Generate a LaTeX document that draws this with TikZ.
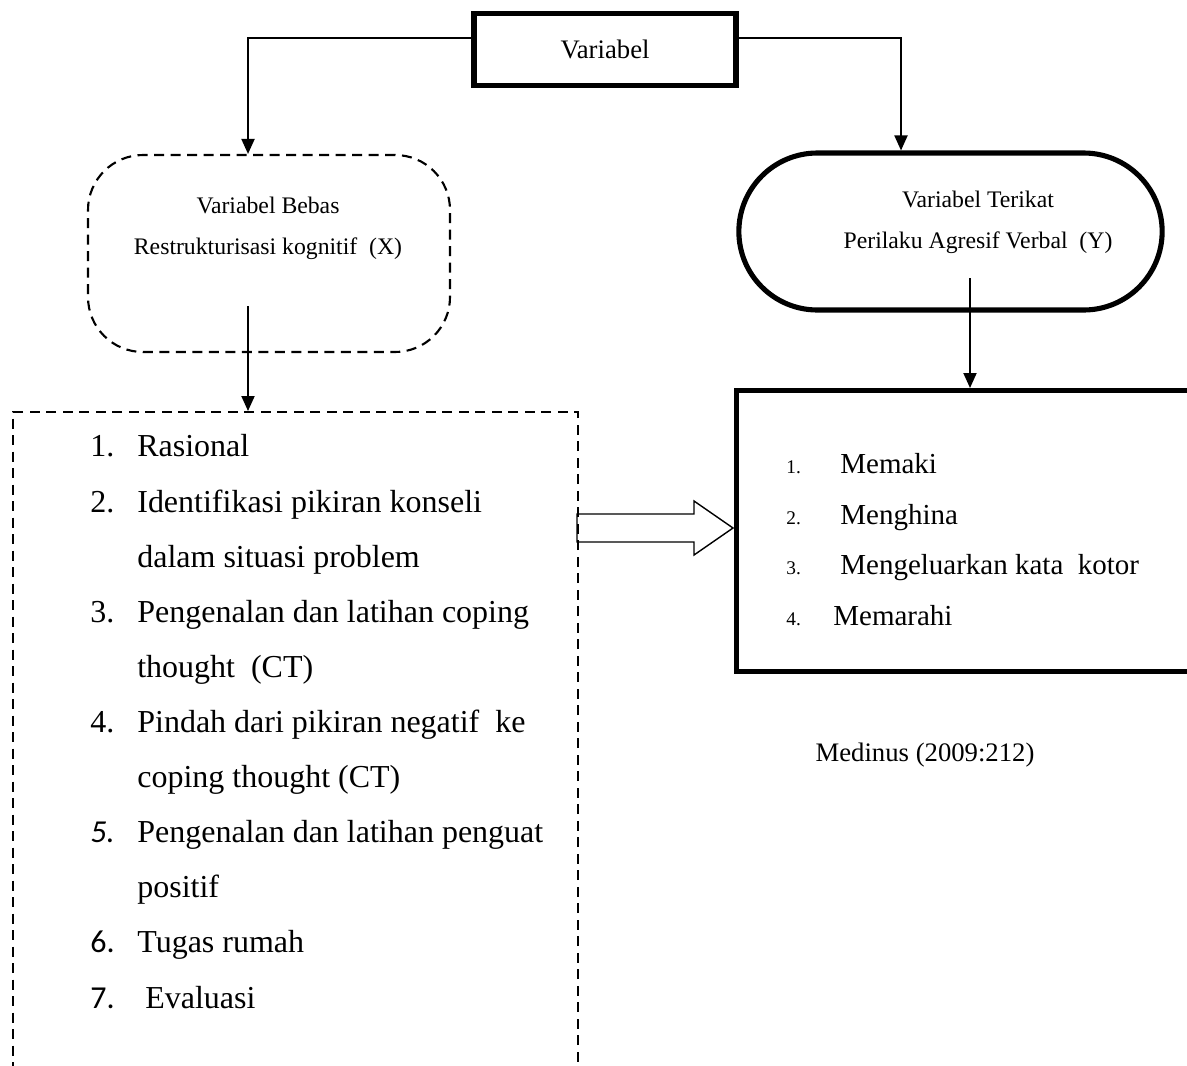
\documentclass[tikz,border=0pt]{standalone}
\usepackage{fontspec}
\setmainfont{Liberation Serif}
\newfontfamily\calibri{Carlito}
\usetikzlibrary{calc,positioning,arrows.meta,shapes.misc}

\begin{document}
\begin{tikzpicture}[scale=1, transform shape,
    conn/.style={line width=1.1pt, -{Triangle[length=0.3cm,width=0.26cm]}},
    tebal/.style={draw, line width=2.9pt},
    putus/.style={draw, line width=1.2pt, dash pattern=on 0.2cm off 0.13cm},
    label/.style={align=center, font=\fontsize{13.5}{23.6}\selectfont},
    item/.style={anchor=base west, inner sep=0pt, font=\fontsize{18.2}{22}\selectfont},
    itemkanan/.style={anchor=base west, inner sep=0pt, font=\fontsize{16.5}{20}\selectfont},
    nokanan/.style={anchor=base west, inner sep=0pt, font=\fontsize{11}{13}\selectfont}]
  \useasboundingbox (0,0) rectangle (23.74,-21.3);
  \clip (0,0) rectangle (23.74,-21.3);

  % boxes
  \node[tebal, minimum width=5.24cm, minimum height=1.44cm,
    font=\fontsize{15.2}{18}\selectfont] (var) at (12.1,-0.99) {Variabel};
  \node[putus, rounded corners=1.1cm, minimum width=7.24cm,
    minimum height=3.94cm] (bebas) at (5.38,-5.07) {};
  \node[label] (bebastxt) at (5.36,-4.57)
    {Variabel Bebas\\Restrukturisasi kognitif~~(X)};
  \node[tebal, rounded rectangle, minimum width=8.7cm,
    minimum height=3.14cm] (terikat) at (19.01,-4.63) {};
  \node[label] (terikattxt) at (19.56,-4.45)
    {Variabel Terikat\\Perilaku Agresif Verbal~~(Y)};
  \node[putus, anchor=north west, minimum width=11.3cm,
    minimum height=13.9cm] (langkah) at (0.24,-8.22) {};
  \node[tebal, anchor=north west, minimum width=10cm,
    minimum height=5.62cm] (indikator) at (14.68,-7.76) {};

  % connectors
  \coordinate (kiri) at (4.96,-0.76);
  \coordinate (kanan) at (18.02,-0.76);
  \draw[conn] (var.west |- kiri) -- (kiri) -- (kiri |- bebas.north);
  \draw[conn] (var.east |- kanan) -- (kanan) -- (kanan |- terikat.north);
  \coordinate (x1) at (4.96,-6.12);
  \coordinate (y1) at (19.4,-5.56);
  \draw[conn] (x1) -- (x1 |- langkah.north);
  \draw[conn] (y1) -- (y1 |- indikator.north);

  % hollow arrow
  \draw[line width=0.8pt] (11.54,-10.28) -- (13.88,-10.28) -- (13.88,-10.02)
    -- (14.66,-10.56) -- (13.88,-11.1) -- (13.88,-10.84) -- (11.54,-10.84) -- cycle;

  % left list
  \node[item] (n1) at (1.8,-9.13) {1.};
  \node[item] (t1) at (2.74,-9.13) {Rasional};
  \node[item] (n2) at (1.8,-10.24) {2.};
  \node[item] (t2) at (2.74,-10.24) {Identifikasi pikiran konseli};
  \node[item] (t2b) at (2.74,-11.34) {dalam situasi problem};
  \node[item] (n3) at (1.8,-12.44) {3.};
  \node[item] (t3) at (2.74,-12.44) {Pengenalan dan latihan coping};
  \node[item] (t3b) at (2.74,-13.54) {thought~~(CT)};
  \node[item] (n4) at (1.8,-14.64) {4.};
  \node[item] (t4) at (2.74,-14.64) {Pindah dari pikiran negatif~~ke};
  \node[item] (t4b) at (2.74,-15.75) {coping thought (CT)};
  \node[item] (n5) at (1.8,-16.85) {\calibri\itshape 5.};
  \node[item] (t5) at (2.74,-16.85) {Pengenalan dan latihan penguat};
  \node[item] (t5b) at (2.74,-17.95) {positif};
  \node[item] (n6) at (1.8,-19.05) {\calibri 6.};
  \node[item] (t6) at (2.74,-19.05) {Tugas rumah};
  \node[item] (n7) at (1.8,-20.16) {\calibri 7.};
  \node[item] (t7) at (2.9,-20.16) {Evaluasi};

  % right list
  \node[nokanan] (m1) at (15.72,-9.46) {1.};
  \node[itemkanan] (k1) at (16.8,-9.46) {Memaki};
  \node[nokanan] (m2) at (15.72,-10.48) {2.};
  \node[itemkanan] (k2) at (16.8,-10.48) {Menghina};
  \node[nokanan] (m3) at (15.72,-11.48) {3.};
  \node[itemkanan] (k3) at (16.8,-11.48) {Mengeluarkan kata~~kotor};
  \node[nokanan] (m4) at (15.72,-12.5) {4.};
  \node[itemkanan] (k4) at (16.66,-12.5) {Memarahi};

  \node[font=\fontsize{15.2}{18}\selectfont] (sumber) at (18.5,-15.1)
    {Medinus (2009:212)};
\end{tikzpicture}
\end{document}
